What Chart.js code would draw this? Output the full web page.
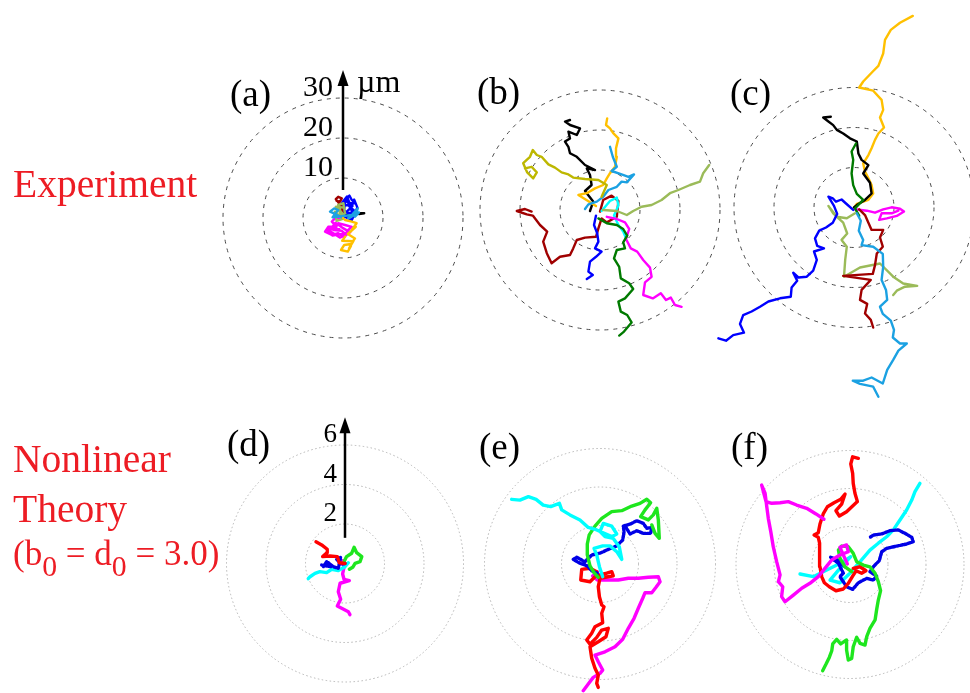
<!DOCTYPE html>
<html>
<head>
<meta charset="utf-8">
<script src="https://cdn.jsdelivr.net/npm/chart.js@4.4.0/dist/chart.umd.min.js"></script>
<style>
html, body { margin: 0; padding: 0; background: #fff; }
#wrap { position: relative; width: 970px; height: 693px; overflow: hidden; font-family: "Liberation Serif", "Times New Roman", serif; }
#plot { position: absolute; left: 0; top: 0; }
.lbl { position: absolute; line-height: 1; white-space: nowrap; color: #000; }
.red { color: #ED1C24; }
.sub { font-size: 0.85em; vertical-align: -0.38em; }
</style>
</head>
<body>
<div id="wrap"><canvas id="plot" width="970" height="693"></canvas></div>
<script>
// Trajectories. Top row in µm, bottom row in model units.
const topRings = [10, 20, 30];
const bottomRings = [2, 4, 6];
const topArrow = [7, 37];
const bottomArrow = [1.3, 7.4];

// (a) experiment, early time
const aGold = [[0,0],[0.5,-0.5],[2.2,-0.9],[3.4,-1.3],[2.2,-3],[3.2,-2.2],[1.2,-4],[3,-5.1],[2,-6.5],[0.3,-6.75],[-0.5,-8],[1.2,-8.4],[2,-7],[1.5,-7.6],[2.6,-5.8],[-0.2,-5.7],[0.6,-4.6]];
const aSky = [[0,0],[-2.4,1.2],[-3.25,1.6],[-2.2,2.4],[-1.2,2],[-2.6,0.2],[2.2,0.75],[3.7,2.4],[3,0.3],[4,1.4],[1.3,-0.1]];
const aSage = [[0,0],[-1.2,3.25],[0.1,3.7],[0.5,1.2],[-0.75,0.3],[-2,1.6],[-1.6,-0.7],[-0.2,-0.3],[-1.2,2.4],[-0.2,1.2],[-1.8,2.8],[0.2,2.6]];
const aMaroon = [[0,0],[-0.3,2.8],[-1.8,4.7],[-1.2,5.3],[-0.3,4.9],[-0.75,4.1],[-1.6,4.3]];
const aMagenta = [[0,0],[-2,-0.1],[-2.8,-0.9],[-1.6,-2.2],[-3.7,-2.2],[-4.5,-3.4],[-2.8,-4.25],[-1.2,-3.8],[0.1,-4.7],[1.3,-3],[2.2,-2.2],[0.5,-1.75],[-1.2,-1.3],[-2.4,-3],[-0.3,-3.2],[0.9,-4.25],[-0.8,-4.9],[-3.4,-3.2],[-1.9,-1.2],[-0.2,-2.4],[1.8,-3.6],[-2.6,-4.4],[-4,-2.8],[-0.9,-2.8]];
const aBlue = [[0,0],[0.5,3.7],[0.9,4.9],[1.6,5.6],[2.2,4.5],[3,3.7],[1.2,3.2],[2.6,2],[3.4,1.6],[1.3,1.2],[0.1,2],[-0.3,2.8],[0.6,4.6],[1.75,3.25],[2.8,4.6],[3.6,2.6],[2.2,-0.5],[0.5,0.3],[3,0.75],[1.8,2.4],[0.4,1.1],[2.4,3],[-0.6,3.4],[1,5.4],[2.6,1.2]];
const aBlack = [[0,0.5],[2,1],[3.8,1.2],[5.3,1.2],[4,1]];

// (b) experiment, middle time
const bOlive = [[0.4,3.3],[1.7,6.25],[-0.4,7.5],[-3.75,7.75],[-6.7,8.1],[-7.9,8.9],[-9.6,9.4],[-11.25,10.6],[-12.9,11.4],[-14.6,13.3],[-15.8,13.75],[-16.8,15],[-17.5,13.3],[-19.2,11.7],[-18.2,9.4],[-16.7,7.9],[-15.8,9.4],[-17.1,10.8],[-18.75,10.4]];
const bSage = [[0.8,0],[4.2,-0.25],[6.7,-1.25],[8.3,-0.25],[10.4,0.8],[12.9,1.25],[15.4,2.5],[17.5,4.2],[19.6,5],[22.5,6.25],[25,7.1],[25.8,9.2],[27.3,11.25]];
const bGreen = [[-0.4,-2.1],[1.7,-3.3],[4.2,-3.75],[5.8,-4.75],[6.8,-6.4],[5.8,-8.1],[6.25,-9.6],[4.2,-10],[3.5,-12.1],[4.8,-14.2],[5.2,-17.1],[7.3,-18.3],[8.3,-19.75],[6.25,-22.1],[4.6,-22.9],[5.2,-25.4],[6.8,-26.25],[7.9,-28.1],[6,-30.4],[4.8,-31.4]];
const bMagenta = [[1.7,-1.7],[4.2,-2.25],[6.25,-3.1],[7.3,-4.75],[6.5,-7.25],[7.7,-9.6],[9.3,-10.4],[10.8,-12.5],[12.5,-14.4],[12.9,-16.7],[11.25,-18.1],[10.8,-21.25],[13.2,-22.1],[15.2,-20.8],[16.5,-22.5],[17.7,-21.9],[18.75,-23.75],[20.4,-24.2]];
const bCyan = [[0.4,-0.25],[2.5,2.25],[4.2,3.1],[4.6,1.1],[3.5,-1.4],[4.6,-3.75],[5.8,-5.4],[6.5,-7.1]];
const bBlue = [[-1,-1.4],[-1.5,-3.75],[-0.7,-5.8],[-0.4,-7.9],[-1.25,-9.6],[0.4,-10.4],[-1,-11.7],[-2.5,-12.9],[-2.9,-15.4],[-1.8,-16.25],[-3.3,-17.25]];
const bMaroon = [[0,-0.4],[0.8,2.5],[2.9,3.6],[4.6,2.25],[4.2,-1.7],[1.7,-3.1],[0.4,-2.1],[-0.4,-4.6],[-1,-6.7],[-3.75,-6.9],[-5.8,-7.5],[-6.7,-9.6],[-7.5,-11.25],[-10,-11.7],[-12.1,-13.3],[-13.3,-10.8],[-14.2,-7.9],[-13.2,-5.4],[-15,-3.75],[-16.8,-1.4],[-18.3,-1.1],[-20.8,-0.25],[-18.75,0.25],[-17.1,-0.4]];
const bSky = [[2.5,15.8],[3.2,13.3],[4.2,10.8],[2.9,9.75],[5.4,8.9],[7.1,8.3],[8.5,8.9],[6.7,6.9],[5.4,7.1],[4.2,5.8],[2.1,5],[0.8,3.3],[-0.8,2.1],[-2.9,1.4],[-3.75,0.25]];
const bGold = [[-1,1],[-5.4,3.75],[-3.3,4.2],[-1.25,5.4],[0.8,6.25],[1.7,7.9],[2.5,9.2],[3.75,10.8],[4.2,13.3],[4,15.4],[4.6,17.9],[3.3,19.2],[2.5,20.4],[1.5,21.25],[1.8,22.9]];
const bBlack = [[-2.5,-0.25],[-1.7,2.1],[-3.75,4.75],[-2.1,6.25],[-2.5,8.75],[-3.3,10.4],[-1.25,10],[-3.75,11.25],[-5.8,13.3],[-7.5,14.2],[-7.9,15.8],[-8.75,17.1],[-7.5,17.9],[-7.9,19.6],[-5.8,18.75],[-5,20.4],[-7.5,21.25],[-8.75,22.1],[-7.5,22.5]];

// (c) experiment, late time
const cSky = [[0.7,-1.45],[1.7,-3.3],[1.2,-5.8],[2.3,-8.1],[1.9,-9.4],[4.8,-9.8],[7.2,-11.6],[7.3,-14.8],[6.9,-18.1],[8,-20.6],[8.3,-23.1],[6.5,-24.8],[7.2,-26.6],[9.2,-28.3],[10,-30.6],[9.7,-32.5],[11.5,-34],[13.2,-34],[11.1,-35.8],[9.8,-38.1],[8.3,-40.6],[7.2,-44],[4.4,-42.5],[2.3,-43.3],[-0.3,-43.3],[1.5,-44.1],[4.8,-44.8],[6.1,-47.3]];
const cMaroon = [[1.3,-0.45],[2.75,-1.9],[3.6,-3.8],[4.4,-5.6],[7.3,-5.6],[6.5,-7.5],[7.2,-9.8],[5.7,-11.5],[5.25,-14.4],[4.7,-16.6],[-2.7,-17.1],[4.2,-18.1],[1.9,-20.6],[1.5,-23.1],[3.3,-24.1],[2.75,-26.5],[4.2,-28.1],[4.8,-30]];
const cBlue = [[-0.2,-0.6],[-2,1],[-3.1,2],[-4.5,1.45],[-5.3,2.3],[-6.4,2.7],[-5,0.4],[-4.2,-1.6],[-5.3,-3.8],[-7,-5],[-8.7,-5.8],[-9.75,-7.7],[-9.2,-9.6],[-7.5,-10.2],[-10,-11],[-9.3,-13.1],[-10.2,-15.8],[-11.8,-17.3],[-13.9,-17.5],[-15.2,-16.3],[-14.2,-18.3],[-15.6,-20],[-15.8,-22.3],[-18.5,-22.7],[-21.4,-23.5],[-23.5,-24.8],[-25.6,-26],[-27.7,-26.9],[-28.5,-29.1],[-27.5,-31.3],[-30.2,-31.9],[-32,-33.3],[-33.9,-32.7]];
const cSage = [[0.25,-1.45],[-1.8,-2.7],[-4.3,-2.3],[-6.4,0.4],[-5.2,-1.45],[-2.7,-3.8],[-1.7,-6.5],[-3.1,-8.1],[-1.8,-9.8],[-2.2,-13.1],[-2.5,-17.3],[1.5,-15],[6.5,-14],[9.8,-17.3],[12.3,-19],[15.8,-19.6],[12.75,-19.8],[10.7,-20.8],[9.8,-21.9]];
const cGreen = [[1.3,-2.1],[0.25,-0.2],[2.3,1.9],[0.7,3.4],[-0.2,5.6],[-0.6,8.5],[-0.2,11.9],[-0.6,14],[0.5,16]];
const cBlack = [[0,0],[0.7,0.6],[2.75,1.9],[4.4,3.5],[4,6.2],[2.3,8.5],[3.6,10.6],[1.9,11.9],[1.1,13.5],[0.7,16.5],[-1,17.3],[-2.7,18.5],[-4.3,19.4],[-5.2,20.6],[-6.4,21.5],[-7.7,22.5],[-5.8,22.7]];
const cGold = [[0,0],[0.7,0.9],[3.6,1.9],[4.8,3.5],[4.4,5.6],[3.6,7.3],[2.75,9],[2.3,11],[3.6,13.1],[4.4,14.8],[5.25,16.9],[6.1,18.5],[7.5,20],[6.5,22.5],[7.3,24.4],[6.9,26.9],[4.8,29.2],[1.3,30],[2.3,31.5],[4.7,34],[6.1,35.4],[7.3,38.5],[7.75,41.9],[9.2,44.4],[11.5,46.2],[14.7,47.9]];
const cMagenta = [[0.25,-0.45],[3.2,-0.8],[5.25,-1.3],[7.3,-0.45],[9.4,0.05],[11.5,-0.3],[12.5,-1],[10.7,-2.1],[8.2,-2.7],[6.3,-3.1],[6.9,-1.45],[9.4,-1.45],[11.1,-0.8]];

// (d) theory, early time
const dRed = [[0,0],[-0.29,0.04],[-0.39,0.35],[-0.76,0.38],[-1.13,0.35],[-0.9,0.55],[-0.9,0.72],[-1.18,0.94],[-1.47,1.1]];
const dBlue = [[0,0],[-0.17,-0.03],[-0.42,0.21],[-0.22,0.31],[-0.34,-0.24],[-0.59,-0.16],[-0.85,0.04],[-1.1,-0.16],[-0.93,0.09],[-0.72,-0.16],[-1.18,-0.08]];
const dCyan = [[0.17,0.04],[0,-0.16],[-0.34,-0.36],[-0.67,-0.29],[-0.93,-0.46],[-1.27,-0.41],[-1.52,-0.5],[-1.77,-0.67],[-1.86,-0.77]];
const dGreen = [[-0.05,0.09],[0.08,0.35],[0.34,0.52],[0.46,0.82],[0.59,0.55],[0.85,0.35],[0.76,0.09],[0.51,0.01],[0.39,-0.19],[0.22,-0.29]];
const dMagenta = [[-0.12,0.14],[-0.05,-0.19],[-0.12,-0.53],[-0.05,-0.8],[0.22,-0.87],[-0.25,-1],[-0.34,-1.43],[-0.22,-1.81],[-0.39,-2.15],[-0.12,-2.29],[0.17,-2.44],[0.25,-2.59]];

// (e) theory, middle time
const eCyan = [[0.14,-0.66],[-0.03,-0.14],[-0.17,0.47],[-0.31,0.81],[0.14,0.94],[0.52,0.94],[0.87,0.64],[1.13,0.24],[1,0.9],[0.69,1.33],[0.26,1.42],[0,1.68],[0.17,2.11],[0.61,1.97],[0.87,1.56],[0.61,1.42],[-0.17,1.77],[-0.61,1.9],[-1.04,2.29],[-1.56,2.55],[-1.99,2.81],[-2.11,3.15],[-2.56,2.98],[-2.95,3.06],[-3.32,3.36],[-3.72,3.5],[-4.16,3.32],[-4.59,3.36]];
const eGreen = [[-0.09,-0.69],[-0.31,-0.45],[-0.52,-0.1],[-0.66,0.47],[-0.66,1.04],[-0.56,1.51],[-0.26,1.97],[0.09,2.37],[0.61,2.72],[1.13,2.77],[1.65,3.01],[2.08,3.15],[2.43,3.36],[2.63,3.18],[2.34,2.81],[2.11,2.46],[2.51,2.29],[2.77,2.55],[2.95,2.89],[3.03,2.29],[3.08,1.33],[2.86,1.59],[2.69,2.03]];
const eBlue = [[-0.14,-0.48],[-0.43,-0.35],[-0.66,-0.1],[-1.04,0.04],[-1.39,0.24],[-1.21,0.35],[-0.78,0.12],[-0.43,0.47],[0,0.56],[0.43,0.76],[0.87,0.94],[1.18,1.25],[1.25,1.68],[1.21,1.97],[1.59,2.08],[1.91,2.25],[2.25,2.11],[2.43,1.85],[2.69,1.9],[2.63,1.59],[2.25,1.59],[1.91,1.73],[1.56,1.56],[1.35,1.9]];
const eRed = [[-0.17,-0.4],[-0.52,-0.22],[-0.95,-0.28],[-1,-0.83],[-0.52,-0.92],[-0.26,-0.66],[0,-0.57],[0.35,-0.48],[0.61,-0.4],[0.69,-0.62],[0.43,-0.66],[0,-0.74],[-0.09,-1.18],[-0.03,-1.7],[0.09,-2.13],[0.21,-2.22],[0.09,-2.56],[0.14,-3.05],[-0.26,-3.26],[-0.43,-3.6],[-0.69,-3.95],[-0.52,-4.16],[-0.17,-3.81],[0.09,-3.43],[0.43,-3.34],[0.31,-3.78],[-0.09,-4.04],[-0.52,-4.3],[-0.43,-4.9],[-0.26,-5.42],[-0.09,-5.77],[-0.17,-6.2],[-0.09,-6.41]];
const eMagenta = [[-0.14,-0.4],[-0.38,-0.62],[-0.14,-0.83],[0.43,-0.83],[0.95,-0.83],[1.47,-0.74],[1.99,-0.74],[2.51,-0.69],[3.03,-0.66],[3.12,-0.92],[2.91,-1.21],[2.69,-1.49],[2.34,-1.49],[2.22,-1.78],[1.99,-2.3],[1.77,-2.82],[1.47,-3.34],[1.18,-3.91],[0.78,-4.3],[0.26,-4.56],[-0.26,-4.73],[-0.09,-5.08],[0.14,-5.51],[0,-5.68],[-0.35,-5.89],[-0.61,-6.23],[-0.87,-6.58]];

// (f) theory, late time
const fMagenta = [[-0.14,0.03],[-0.35,0.5],[-0.53,0.9],[-0.18,1.03],[-0.09,0.67],[-0.53,0.5],[-0.96,0.24],[-1.32,-0.2],[-1.67,-0.64],[-2.11,-0.99],[-2.54,-1.25],[-2.98,-1.61],[-3.42,-1.96],[-3.6,-1.69],[-3.54,-1.17],[-3.77,-0.9],[-3.68,-0.55],[-3.86,0.15],[-4.04,0.94],[-4.17,1.73],[-4.3,2.43],[-4.38,3.04],[-4.47,3.75],[-4.65,4.18],[-4.42,3.31],[-4.12,3.22],[-3.68,3.25],[-3.25,3.31],[-2.81,3.13],[-2.28,2.96],[-1.79,2.66],[-1.37,2.38]];
const fGreen = [[0.09,-0.38],[-0.26,-0.12],[-0.53,0.33],[-0.61,0.76],[-0.44,0.97],[-0.09,0.94],[0.17,0.59],[0.35,0.15],[0.7,-0.03],[1.05,-0.12],[1.32,-0.46],[1.49,-0.9],[1.61,-1.38],[1.49,-1.87],[1.4,-2.39],[1.32,-2.92],[1.05,-3.36],[0.88,-3.8],[0.79,-4.24],[0.53,-4.15],[0.35,-3.83],[0.17,-4.33],[0.09,-4.94],[-0.09,-5.03],[-0.18,-4.5],[-0.18,-3.97],[-0.49,-4.18],[-0.7,-3.94],[-0.91,-4.18],[-0.96,-4.54],[-1.09,-4.89],[-1.26,-5.24],[-1.44,-5.59]];
const fRed = [[0.17,-0.2],[0.53,-0.12],[0.84,-0.33],[0.61,-0.46],[0.32,-0.33],[0.14,-0.61],[-0.09,-0.99],[-0.35,-1.29],[-0.74,-1.38],[-1.09,-1.17],[-1.35,-0.96],[-1.49,-0.64],[-1.58,-0.12],[-1.62,0.5],[-1.58,1.12],[-1.67,1.43],[-1.89,1.55],[-1.67,1.67],[-1.58,2.13],[-1.41,2.66],[-1.19,3.04],[-0.84,3.25],[-0.49,3.43],[-0.26,3.71],[-0.44,3.18],[-0.74,2.83],[-0.56,2.55],[-0.18,2.78],[0.14,3.08],[0.39,3.31],[0.26,3.75],[0.17,4.27],[0.14,4.8],[0.04,5.29],[0.14,5.67],[0.44,5.59]];
const fBlue = [[-0.26,-0.12],[-0.7,0.27],[-1.02,0.38],[-0.61,0.06],[-0.35,-0.46],[-0.53,-0.64],[-0.18,-1.17],[0.14,-1.31],[0.44,-0.96],[0.88,-0.73],[1.23,-0.82],[1.4,-0.61],[1.05,-0.38],[1.26,-0.08],[1.54,0.2],[1.67,0.67],[1.93,0.85],[2.46,0.97],[2.98,1.08],[3.33,1.2],[3.25,1.43],[2.89,1.64],[2.54,1.82],[2.11,1.78],[1.67,1.61],[1.23,1.55],[1.05,1.43]];
const fCyan = [[-2.63,-0.5],[-1.93,-0.64],[-1.41,-0.38],[-0.88,-0.12],[-0.35,0.15],[0.04,0.41],[-0.53,-0.2],[-1.05,-0.82],[-0.53,-0.96],[0,-0.46],[0.61,0.24],[1.05,0.76],[1.49,1.12],[1.93,1.46],[2.28,1.82],[2.63,2.34],[2.98,2.87],[3.25,3.39],[3.42,3.83],[3.68,4.27]];

const C = {
    black: '#000000', gold: '#FFC000', sky: '#1BA1E2', olive: '#BDB700', sage: '#9BBB59',
    maroon: '#A00000', blue: '#0000FF', green: '#007A00', magenta: '#FF00FF', cyan: '#00FFFF',
    red: '#FF0000', lime: '#1EE61E', navy: '#0000E6'
};

const W = 970, H = 693;

// panel layout: centre in page pixels, pixels per unit
const panels = [
    { key: 'a', cx: 343, cy: 218, k: 4, rings: topRings, ring: 'dash', lw: 2.4, arrow: topArrow, tickOff: 10, tickSize: 30, unit: 'µm',
      series: [[aGold, C.gold], [aSky, C.sky], [aSage, C.sage], [aMaroon, C.maroon], [aMagenta, C.magenta], [aBlue, C.blue], [aBlack, C.black]] },
    { key: 'b', cx: 600, cy: 210, k: 4, rings: topRings, ring: 'dash', lw: 2.4,
      series: [[bOlive, C.olive], [bSage, C.sage], [bGreen, C.green], [bMagenta, C.magenta], [bCyan, C.cyan], [bBlue, C.blue], [bMaroon, C.maroon], [bSky, C.sky], [bGold, C.gold], [bBlack, C.black]] },
    { key: 'c', cx: 854, cy: 207.5, k: 4, rings: topRings, ring: 'dash', lw: 2.4,
      series: [[cSky, C.sky], [cMaroon, C.maroon], [cBlue, C.blue], [cSage, C.sage], [cGreen, C.green], [cBlack, C.black], [cGold, C.gold], [cMagenta, C.magenta]] },
    { key: 'd', cx: 345, cy: 563.5, k: 19.75, rings: bottomRings, ring: 'dot', lw: 3.4, arrow: bottomArrow, tickOff: 8, tickSize: 27,
      series: [[dRed, C.red], [dBlue, C.navy], [dCyan, C.cyan], [dGreen, C.lime], [dMagenta, C.magenta]] },
    { key: 'e', cx: 600, cy: 564, k: 19.25, rings: bottomRings, ring: 'dot', lw: 3.4,
      series: [[eCyan, C.cyan], [eGreen, C.lime], [eBlue, C.navy], [eRed, C.red], [eMagenta, C.magenta]] },
    { key: 'f', cx: 850, cy: 564.5, k: 19, rings: bottomRings, ring: 'dot', lw: 3.4,
      series: [[fMagenta, C.magenta], [fGreen, C.lime], [fRed, C.red], [fBlue, C.navy], [fCyan, C.cyan]] }
];

const scales = {};
const datasets = [];
panels.forEach(p => {
    scales['x' + p.key] = { type: 'linear', axis: 'x', position: 'bottom', display: false, min: -p.cx / p.k, max: (W - p.cx) / p.k };
    scales['y' + p.key] = { type: 'linear', axis: 'y', position: 'left', display: false, min: -(H - p.cy) / p.k, max: p.cy / p.k };
    p.series.forEach(([pts, color]) => {
        datasets.push({
            data: pts.map(([x, y]) => ({ x, y })),
            xAxisID: 'x' + p.key,
            yAxisID: 'y' + p.key,
            showLine: true,
            borderColor: color,
            backgroundColor: color,
            borderWidth: p.lw,
            borderDash: color === C.navy ? [2.5, 1.5] : [],
            pointRadius: 0
        });
    });
});

// dashed / dotted range rings and the scale arrows
const ringPlugin = {
    id: 'rings',
    beforeDatasetsDraw(chart) {
        const ctx = chart.ctx;
        panels.forEach(p => {
            const xs = chart.scales['x' + p.key], ys = chart.scales['y' + p.key];
            const x0 = xs.getPixelForValue(0), y0 = ys.getPixelForValue(0);
            ctx.save();
            ctx.lineWidth = 1;
            ctx.strokeStyle = p.ring === 'dash' ? '#4a4a4a' : '#b4b4b4';
            ctx.setLineDash(p.ring === 'dash' ? [4, 5] : [1.5, 2.5]);
            p.rings.forEach(r => {
                const rr = xs.getPixelForValue(r) - x0;
                ctx.beginPath();
                ctx.arc(x0, y0, rr, 0, Math.PI * 2);
                ctx.stroke();
            });
            ctx.restore();
        });
    },
    afterDatasetsDraw(chart) {
        const ctx = chart.ctx;
        panels.filter(p => p.arrow).forEach(p => {
            const xs = chart.scales['x' + p.key], ys = chart.scales['y' + p.key];
            const x0 = xs.getPixelForValue(0);
            const yb = ys.getPixelForValue(p.arrow[0]), yt = ys.getPixelForValue(p.arrow[1]);
            ctx.save();
            ctx.strokeStyle = '#000';
            ctx.fillStyle = '#000';
            ctx.lineWidth = 2.5;
            ctx.beginPath();
            ctx.moveTo(x0, yb);
            ctx.lineTo(x0, yt + 12);
            ctx.stroke();
            ctx.beginPath();
            ctx.moveTo(x0, yt);
            ctx.lineTo(x0 - 5.5, yt + 16);
            ctx.lineTo(x0 + 5.5, yt + 16);
            ctx.closePath();
            ctx.fill();
            ctx.restore();
        });
    }
};

const chart = new Chart(document.getElementById('plot'), {
    type: 'scatter',
    data: { datasets },
    options: {
        responsive: false,
        animation: false,
        events: [],
        layout: { padding: 0 },
        elements: { line: { tension: 0, borderJoinStyle: 'round', borderCapStyle: 'round' }, point: { radius: 0 } },
        plugins: { legend: { display: false }, tooltip: { enabled: false } },
        scales
    },
    plugins: [ringPlugin]
});

// text labels, placed by baseline
const wrap = document.getElementById('wrap');
function addText(html, x, base, size, opts = {}) {
    const d = document.createElement('div');
    d.className = 'lbl' + (opts.cls ? ' ' + opts.cls : '');
    d.style.fontSize = size + 'px';
    d.style.top = (base - 0.8375 * size) + 'px';
    if (opts.right) d.style.right = (W - x) + 'px';
    else d.style.left = x + 'px';
    d.innerHTML = html;
    wrap.appendChild(d);
}

addText('Experiment', 13, 198, 39.5, { cls: 'red' });
addText('Nonlinear', 13, 473, 39.5, { cls: 'red' });
addText('Theory', 13, 523, 39.5, { cls: 'red' });
addText('(b<span class="sub">0</span> = d<span class="sub">0</span> = 3.0)', 13, 565, 35, { cls: 'red' });

const panelNames = [['(a)', 230, 106], ['(b)', 477, 104], ['(c)', 730, 105], ['(d)', 227, 456], ['(e)', 479, 459], ['(f)', 731, 459]];
panelNames.forEach(([t, x, b]) => addText(t, x, b, 37));

panels.filter(p => p.arrow).forEach(p => {
    const xs = chart.scales['x' + p.key], ys = chart.scales['y' + p.key];
    const x0 = xs.getPixelForValue(0);
    p.rings.forEach(r => addText(String(r), x0 - p.tickOff, ys.getPixelForValue(r) - 2, p.tickSize, { right: true }));
    if (p.unit) addText(p.unit, x0 + 14, ys.getPixelForValue(p.rings[p.rings.length - 1]) - 6, 32);
});
</script>
</body>
</html>
